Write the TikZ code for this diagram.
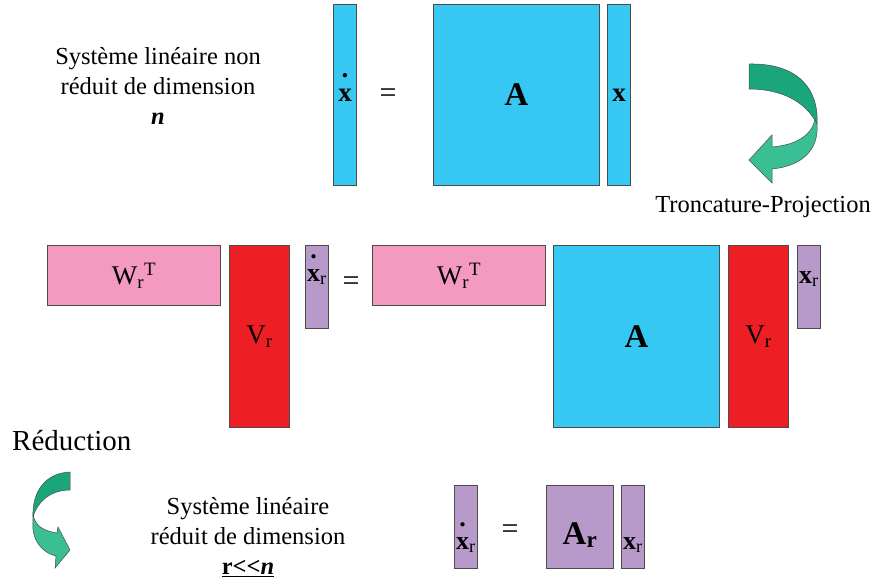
\documentclass[tikz,border=0pt]{standalone}
\usepackage{fontspec}
\setmainfont{Liberation Serif}
\usetikzlibrary{positioning}
\definecolor{mcyan}{RGB}{54,199,242}
\definecolor{mpink}{RGB}{244,154,193}
\definecolor{mred}{RGB}{237,30,36}
\definecolor{mlila}{RGB}{183,154,201}
\definecolor{gdark}{RGB}{26,165,122}
\definecolor{glight}{RGB}{58,190,148}
\tikzset{
  mblk/.style={rectangle, draw=black!70, line width=1pt, inner sep=0pt, anchor=north west,
               font=\fontsize{27}{30}\selectfont},
  mtxt/.style={inner sep=0pt, font=\fontsize{26}{30}\selectfont},
  bigA/.style={font=\fontsize{33}{36}\selectfont\bfseries},
  eqs/.style={inner sep=0pt, font=\fontsize{30}{30}\selectfont},
  dtxt/.style={align=center, inner sep=0pt, font=\fontsize{24.5}{30}\selectfont},
  twist/.style={draw=black!70, line width=.5pt},
}
\newsavebox{\dotbx}
\newcommand{\dotover}[1]{\sbox\dotbx{#1}\makebox[\wd\dotbx]{\smash{\raisebox{1.9\ht\dotbx}{\textbf{.}}}}\kern-\wd\dotbx\usebox\dotbx}
\newcommand{\rsub}{\textsubscript{r}}

\begin{document}
\begin{tikzpicture}[x=1pt,y=-1pt]
  \useasboundingbox (0,0) rectangle (875,587);
  % systeme non reduit
  \node[dtxt](t1) at (158,86){Système linéaire non\\réduit de dimension\\\textbf{\textit{n}}};
  \node[mblk,fill=mcyan,minimum width=23pt,minimum height=181pt](xd) at (333,4){\dotover{\textbf{x}}};
  \node[eqs](eq1) at (388,96){=};
  \node[mblk,bigA,fill=mcyan,minimum width=166pt,minimum height=181pt,right=76pt of xd.north east,anchor=north west](A){A};
  \node[mblk,fill=mcyan,minimum width=23pt,minimum height=181pt,right=7pt of A.north east,anchor=north west](x){\textbf{x}};
  % fleche troncature
  \filldraw[twist,fill=gdark] (749,64) .. controls (797,63) and (819,88) .. (817,124) .. controls (806,102) and (782,89) .. (749,89) -- cycle;
  \filldraw[twist,fill=glight] (815,119) .. controls (812,136) and (795,145) .. (772,147) -- (772,135) -- (749,160) -- (772,183) -- (772,169) .. controls (802,166) and (819,150) .. (817,124) -- cycle;
  \node[dtxt](t2) at (763,207){Troncature-Projection};
  % projection
  \node[mblk,fill=mpink,minimum width=173pt,minimum height=60pt](Wl) at (47,245){W\rsub\textsuperscript{T}};
  \node[mblk,fill=mred,minimum width=60pt,minimum height=182pt,right=8pt of Wl.north east,anchor=north west](Vl){V\rsub};
  \node[mblk,fill=mlila,minimum width=23pt,minimum height=83pt,right=15pt of Vl.north east,anchor=north west](xdr){};
  \node[mtxt](xdrl) at ([yshift=10pt]xdr.center){\dotover{\textbf{x}}\rsub};
  \node[eqs](eq2) at (351,284){=};
  \node[mblk,fill=mpink,minimum width=173pt,minimum height=60pt](Wr) at (372,245){W\rsub\textsuperscript{T}};
  \node[mblk,bigA,fill=mcyan,minimum width=166pt,minimum height=182pt,right=7pt of Wr.north east,anchor=north west](Ar){A};
  \node[mblk,fill=mred,minimum width=60pt,minimum height=182pt,right=8pt of Ar.north east,anchor=north west](Vr){V\rsub};
  \node[mblk,fill=mlila,minimum width=23pt,minimum height=83pt,right=8pt of Vr.north east,anchor=north west](xr){};
  \node[mtxt](xrl) at ([yshift=8pt]xr.center){\textbf{x}\rsub};
  % reduction
  \node[inner sep=0pt,anchor=west,font=\fontsize{29}{30}\selectfont](red) at (12,441){Réduction};
  \filldraw[twist,fill=gdark] (70,472) .. controls (45,473) and (32,492) .. (33,517) .. controls (38,500) and (52,490) .. (70,490) -- cycle;
  \filldraw[twist,fill=glight] (33,515) .. controls (36,528) and (46,531) .. (57,533) -- (58,527) -- (70,550) -- (55,568) -- (56,556) .. controls (40,552) and (31,538) .. (33,519) -- cycle;
  \node[dtxt](t3) at (248,537){Système linéaire\\réduit de dimension\\\underline{\textbf{r<{}<\textit{n}}}};
  \node[mblk,fill=mlila,minimum width=23pt,minimum height=83pt](xdb) at (454,485){};
  \node[mtxt](xdbl) at ([yshift=-18pt]xdb.center){\dotover{\textbf{x}}\rsub};
  \node[eqs](eq3) at (510,532){=};
  \node[mblk,fill=mlila,minimum width=67pt,minimum height=83pt,right=68pt of xdb.north east,anchor=north west](Arb){};
  \node[bigA,inner sep=0pt](Arbl) at ([yshift=-8pt]Arb.center){A\textsubscript{r}};
  \node[mblk,fill=mlila,minimum width=23pt,minimum height=83pt,right=7pt of Arb.north east,anchor=north west](xb){};
  \node[mtxt](xbl) at ([yshift=-18pt]xb.center){\textbf{x}\rsub};
\end{tikzpicture}
\end{document}
